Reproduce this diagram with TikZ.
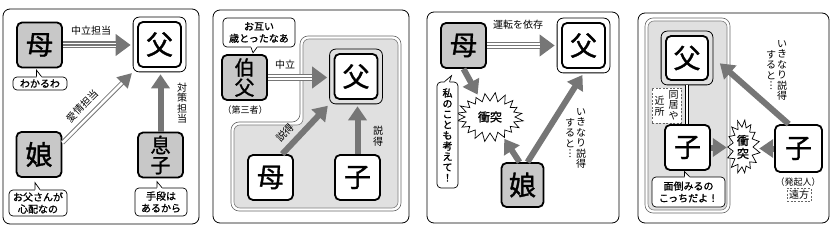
\documentclass[tikz,border=0pt]{standalone}
\usepackage{fontspec}
\setmainfont{Noto Sans CJK JP}
\newfontfamily\medjp[FakeBold=1.2]{Noto Sans CJK JP}
\usetikzlibrary{arrows.meta,fit,calc,shapes.geometric}
\definecolor{boxgray}{RGB}{200,200,200}
\definecolor{agray}{RGB}{118,118,118}
\definecolor{regiongray}{RGB}{224,224,224}
\newcommand{\cptr}[6]{%
  \fill[white] ([xshift=#2pt,yshift=#6pt]#1) -- ([xshift=#2pt]#1) -- ([xshift=#4pt,yshift=#5pt]#1) -- ([xshift=#3pt]#1) -- ([xshift=#3pt,yshift=#6pt]#1) -- cycle;
  \draw[line width=0.7pt] ([xshift=#2pt]#1) -- ([xshift=#4pt,yshift=#5pt]#1) -- ([xshift=#3pt]#1);}
\begin{document}
\begin{tikzpicture}[x=1pt,y=-1pt,
  pframe/.style={draw, line width=0.8pt, rounded corners=7pt},
  kbox/.style={draw, line width=1.8pt, rounded corners=5pt, minimum width=45pt, minimum height=45pt, inner sep=0pt, align=center, font=\fontsize{27}{28}\selectfont\medjp},
  gk/.style={kbox, fill=boxgray},
  wk/.style={kbox, fill=white},
  twok/.style={font=\fontsize{20}{20}\selectfont\medjp},
  dadin/.style={kbox, fill=white, minimum width=43pt, minimum height=45pt},
  dadout/.style={draw, line width=0.8pt, rounded corners=6pt, inner sep=4pt},
  cbox/.style={draw, line width=0.7pt, rounded corners=4pt, fill=white, align=center, inner sep=1pt, font=\fontsize{10}{12}\selectfont\medjp},
  lbl/.style={font=\fontsize{10}{10.5}\selectfont, text=black, inner sep=0pt, align=center},
  dbox/.style={draw=black!60, dash pattern=on 2pt off 1.5pt, line width=0.5pt, fill=white},
  burst/.style={draw, fill=white, line width=0.7pt},
  triarrow/.style={draw=agray, line width=7pt, shorten >=2pt, -{Triangle[length=15pt,width=21pt]},
     postaction={draw=white, line width=4.2pt, -, shorten >=17pt},
     postaction={draw=agray, line width=1.3pt, -, shorten >=17pt}},
  dblarrow/.style={draw=agray, line width=4.6pt, shorten >=1pt, -{Triangle[length=14pt,width=15pt]},
     postaction={draw=white, line width=2.6pt, -, shorten >=15pt}},
  thickarrow/.style={draw=agray, line width=6pt, shorten >=2pt, -{Triangle[length=14pt,width=18pt]}}
]
\useasboundingbox (0,0) rectangle (840,235);

% ---------------- Panel 1 ----------------
\draw[pframe] (3,9) rectangle (199,224);
\node[gk] (m1) at (39.5,45) {母};
\node[dadin] (f1) at (159.5,44.5) {父};
\node[dadout, fit=(f1)] (F1) {};
\node[gk] (d1) at (39,154.5) {娘};
\node[gk, twok] (s1) at (160.5,155) {息\\子};
\node[cbox, minimum width=54pt, minimum height=13pt] (c1) at (40,83.5) {わかるわ};
\cptr{c1.north}{-3.5}{1.5}{-3.5}{6.5}{-1.2}
\node[cbox, minimum width=58pt, minimum height=26pt] (c2) at (38,203) {お父さんが\\心配なの};
\cptr{c2.north}{-3}{2}{-3}{7}{-1.2}
\node[cbox, minimum width=52pt, minimum height=28pt] (c3) at (161,202) {手段は\\あるから};
\cptr{c3.north}{-4}{1}{-4}{6}{-1.2}
\draw[triarrow] (m1.east) -- (m1.east -| F1.west);
\node[lbl] (l1a) at (91,31) {中立担当};
\draw[dblarrow] ($(d1.north east)!0.25!(d1.south east)$) -- node[lbl, sloped, above=5pt, pos=0.4] (l1b) {愛情担当} (F1.south west);
\draw[thickarrow] (s1.north) -- (s1.north |- F1.south);
\node[lbl] (l1c) at (182,103) {対\\策\\担\\当};

% ---------------- Panel 2 ----------------
\draw[pframe] (213,10) rectangle (409,223);
\draw[draw=black!60, line width=0.6pt, fill=white, rounded corners=8pt] (300,36) -- (401,36) -- (401,211) -- (231,211) -- (231,122) -- (300,122) -- cycle;
\draw[draw=black!50, line width=0.6pt, fill=regiongray, rounded corners=6pt] (303,39) -- (398,39) -- (398,208) -- (234,208) -- (234,125) -- (303,125) -- cycle;
\node[cbox, minimum width=72pt, minimum height=29pt] (c4) at (259,32.5) {お互い\\歳とったなあ};
\cptr{c4.south}{-8}{-2}{-6}{-5.5}{1.2}
\node[gk, twok] (u2) at (244.5,77.5) {伯\\父};
\node[lbl, font=\fontsize{9}{10}\selectfont] (t2) at (245,110) {（第三者）};
\node[dadin] (f2) at (356,76.5) {父};
\node[dadout, fit=(f2)] (F2) {};
\draw[triarrow] (u2.east) -- (u2.east -| F2.west);
\node[lbl] (l2a) at (285,65) {中立};
\node[wk] (m2) at (270.5,177.5) {母};
\node[wk] (k2) at (357.5,177.5) {子};
\draw[thickarrow] ($(m2.north west)!0.75!(m2.north east)$) -- node[lbl, sloped, above=5pt, pos=0.25] (l2b) {説得} (F2.south west);
\draw[thickarrow] (k2.north) -- (k2.north |- F2.south);
\node[lbl] (l2c) at (378,136) {説\\得};

% ---------------- Panel 3 ----------------
\draw[pframe] (427,12) rectangle (619,223);
\node[gk] (m3) at (463.5,45.5) {母};
\node[dadin] (f3) at (583.5,45.5) {父};
\node[dadout, fit=(f3)] (F3) {};
\draw[triarrow] (m3.east) -- (m3.east -| F3.west);
\node[lbl] (l3a) at (518,25) {運転を依存};
\draw[burst] (490+25,117) \foreach \i in {1,...,39} { -- ({490+(25+7*mod(\i,2)*(0.75+0.5*abs(sin(\i*73))))*cos(\i*9)}, {117+(16+7*mod(\i,2)*(0.75+0.5*abs(sin(\i*73))))*sin(\i*9)}) } -- cycle;
\node[ellipse, inner sep=0pt, minimum width=62pt, minimum height=44pt, font=\fontsize{12}{13}\selectfont\medjp] (b3) at (490,117) {衝突};
\draw[thickarrow] (m3.south) -- (b3);
\node[cbox, minimum width=21pt, minimum height=106pt, font=\fontsize{10}{10.6}\selectfont\medjp] (c5) at (447.5,135) {私\\の\\こ\\と\\も\\考\\え\\て\\！};
\cptr{c5.north}{-3}{2}{4}{6}{-1.2}
\node[gk, minimum width=42pt, minimum height=44pt] (d3) at (522.5,185) {娘};
\draw[thickarrow] ([xshift=-3pt]d3.north) -- (b3);
\draw[thickarrow] ([xshift=5pt]d3.north) -- (F3.south);
\node[lbl, anchor=north] (l3b) at (581,108) {い\\き\\な\\り\\説\\得};
\node[lbl, anchor=north] (l3c) at (570,118) {す\\る\\と\\︙};

% ---------------- Panel 4 ----------------
\draw[pframe] (638,13) rectangle (829,223);
\draw[draw=black!60, line width=0.6pt, fill=white, rounded corners=8pt] (645,18) rectangle (730,213);
\draw[draw=black!50, line width=0.6pt, fill=regiongray, rounded corners=6pt] (648,21) rectangle (727,210);
\node[dadin, minimum width=42pt, minimum height=44pt] (f4) at (687,58) {父};
\node[dadout, fit=(f4)] (F4) {};
\node[wk] (k4) at (687.5,147.5) {子};
\draw[double distance=2.6pt, line width=0.7pt] (F4.south) -- (F4.south |- k4.north);
\node[dbox, minimum width=29pt, minimum height=35pt] (nb) at (666.5,105.5) {};
\node[lbl, anchor=north] (l4a) at (673.5,90) {同\\居\\や};
\node[lbl, anchor=north] (l4b) at (659.5,96) {近\\所};
\node[cbox, minimum width=73pt, minimum height=30pt] (c6) at (688.5,192) {面倒みるの\\こっちだよ！};
\cptr{c6.north}{-4}{1}{-4}{5}{-1.2}
\draw[burst] (743+10,147) \foreach \i in {1,...,29} { -- ({743+(10+6*mod(\i,2)*(0.75+0.5*abs(sin(\i*73))))*cos(\i*12)}, {147+(20+6*mod(\i,2)*(0.75+0.5*abs(sin(\i*73))))*sin(\i*12)}) } -- cycle;
\node[ellipse, inner sep=0pt, minimum width=28pt, minimum height=50pt, align=center, font=\fontsize{12}{13}\selectfont\medjp] (b4) at (743,147) {衝\\突};
\node[wk, minimum width=47pt, minimum height=47pt] (k5) at (798.5,148.5) {子};
\draw[thickarrow] (k4.east) -- (k4.east -| b4.west);
\draw[thickarrow] (k5.west) -- (k5.west -| b4.east);
\draw[thickarrow] ($(k5.north west)!0.3!(k5.north east)$) -- ([xshift=5pt,yshift=-4pt]F4.east);
\node[lbl, anchor=north] (l4c) at (782,40) {い\\き\\な\\り\\説\\得};
\node[lbl, anchor=north] (l4d) at (771,50) {す\\る\\と\\︙};
\node[lbl, font=\fontsize{9}{10}\selectfont] (l4e) at (798,182) {（発起人）};
\node[lbl, dbox, inner sep=2pt] (l4f) at (799,195) {遠方};
\end{tikzpicture}
\end{document}
